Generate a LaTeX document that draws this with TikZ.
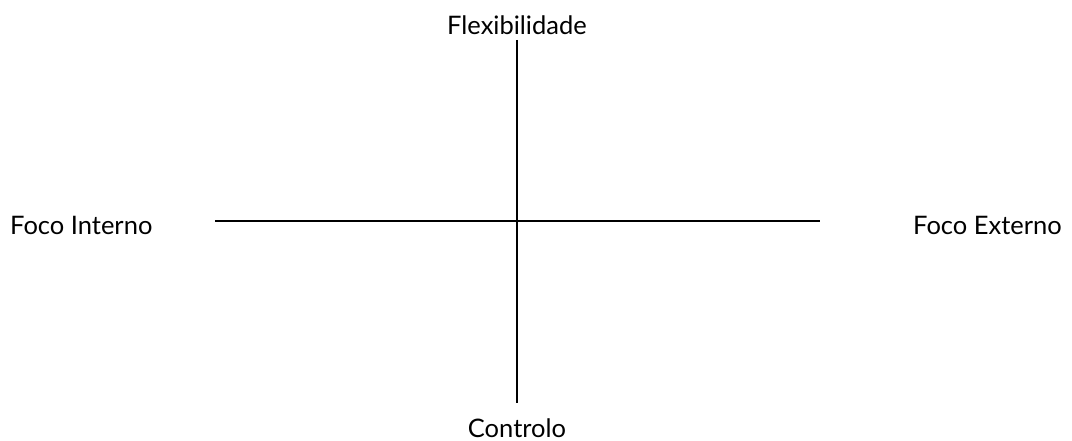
\documentclass[tikz,border=0pt]{standalone}
\usepackage{fontspec}
\setmainfont{Lato}
\begin{document}
\begin{tikzpicture}[x=1pt,y=1pt,
  lbl/.style={inner sep=0pt,font=\fontsize{25.5}{30}\selectfont},
  axis/.style={line width=1.4pt,black}]
\useasboundingbox (0,0) rectangle (1072,441);
\coordinate (top) at (517,401);
\coordinate (bot) at (517,38);
\coordinate (lft) at (215,220);
\coordinate (rgt) at (820,220);
\draw[axis] (top) -- (bot);
\draw[axis] (lft) -- (rgt);
\node[lbl] (flex) at (517,416) {Flexibilidade};
\node[lbl] (ctrl) at (517,13) {Controlo};
\node[lbl,anchor=west] (fi) at (10,216) {Foco Interno};
\node[lbl,anchor=east] (fe) at (1062,216) {Foco Externo};
\end{tikzpicture}
\end{document}
